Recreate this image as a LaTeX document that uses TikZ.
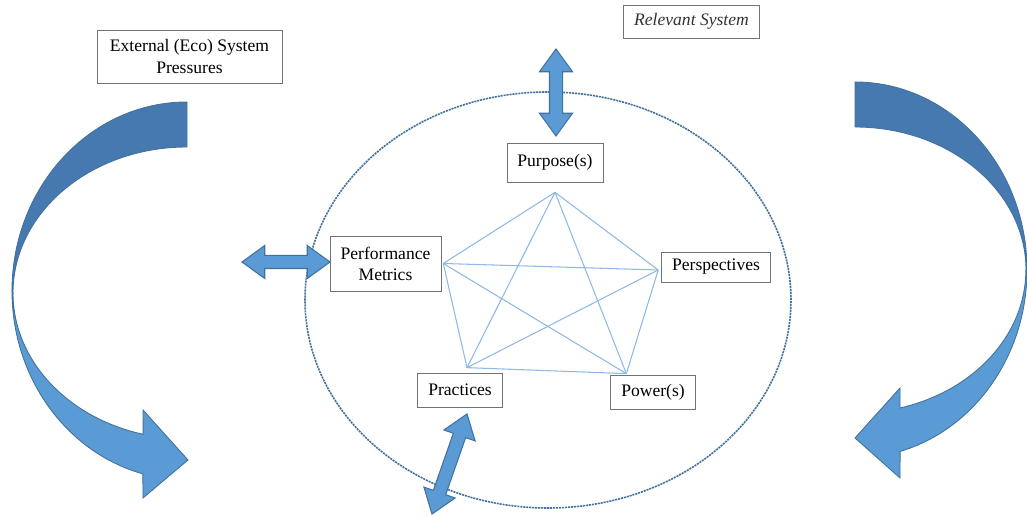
\documentclass[tikz,border=0pt]{standalone}
\usepackage{fontspec}
\setmainfont{Liberation Serif}
\usetikzlibrary{shapes.arrows}

\definecolor{arrowfill}{HTML}{5B9BD5}
\definecolor{arrowdark}{HTML}{4679AF}
\definecolor{arrowedge}{HTML}{41719C}
\definecolor{webblue}{HTML}{8EB8E5}

\begin{document}
\begin{tikzpicture}[
	labelbox/.style={draw=black!55, fill=white, inner xsep=6pt, inner ysep=4pt, align=center},
	flow/.style={double arrow, draw=arrowedge, fill=arrowfill, line width=0.6pt, inner xsep=0pt, inner ysep=0.12cm, double arrow head extend=0.2cm, double arrow tip angle=72},
	web/.style={draw=webblue, line width=0.6pt},
	ribbon/.style={draw=arrowedge, line width=0.5pt}]
	
	\useasboundingbox (0,0) rectangle (20.54,10.34);
	
	%system boundary
	\draw[arrowedge, dash pattern=on 1.2pt off 0.5pt, line width=0.9pt] (10.96,4.34) ellipse [x radius=4.86, y radius=4.16];
	
	%outside labels
	\node[labelbox, minimum height=0.66cm, font=\itshape, text=black!80] (relevant) at (13.83,9.91) {Relevant System};
	\node[labelbox, minimum width=3.7cm, minimum height=1.06cm] (external) at (3.79,9.21) {External (Eco) System\\Pressures};
	
	%the five p's
	\node[labelbox, minimum height=0.78cm] (purpose) at (11.10,7.09) {Purpose(s)};
	\node[labelbox, minimum height=1.10cm] (metrics) at (7.71,5.07) {Performance\\Metrics};
	\node[labelbox, minimum height=0.60cm] (persp) at (14.32,5.00) {Perspectives};
	\node[labelbox, minimum height=0.68cm] (practices) at (9.20,2.54) {Practices};
	\node[labelbox, minimum height=0.68cm] (power) at (13.06,2.50) {Power(s)};
	
	%corners of the web
	\coordinate (pTop) at ([yshift=-0.2cm]purpose.south);
	\coordinate (pLeft) at ([xshift=0.04cm]metrics.east);
	\coordinate (pRight) at ([xshift=-0.06cm,yshift=-0.06cm]persp.west);
	\coordinate (pBL) at ([xshift=0.14cm,yshift=0.1cm]practices.north);
	\coordinate (pBR) at ([xshift=0.32cm,yshift=0.02cm]power.north west);
	
	\foreach \a/\b in {pTop/pLeft, pTop/pRight, pTop/pBL, pTop/pBR, pLeft/pRight,
		pLeft/pBL, pLeft/pBR, pRight/pBL, pRight/pBR, pBL/pBR}
		\draw[web] (\a) -- (\b);
	
	%exchange across the boundary
	\node[flow, minimum height=1.74cm, rotate=90] (topflow) at (11.12,8.49) {};
	\node[flow, minimum height=1.76cm] (leftflow) at (5.72,5.10) {};
	\node[flow, minimum height=2.12cm, rotate=70.7] (lowflow) at (8.99,1.06) {};
	
	%left pressure loop
	\filldraw[ribbon, fill=arrowdark] (3.74,8.30) arc[start angle=90, end angle=180, x radius=3.5, y radius=3.78]
		-- (0.26,4.48) arc[start angle=180, end angle=90, x radius=3.48, y radius=2.92] -- cycle;
	\filldraw[ribbon, fill=arrowfill] (0.24,4.52) arc[start angle=180, end angle=255.4, x radius=3.5, y radius=3.78]
		-- (2.86,0.38) -- (3.76,1.14) -- (2.86,2.14) -- (2.863,1.654)
		arc[start angle=255.4, end angle=180, x radius=3.48, y radius=2.92] -- cycle;
	
	%right pressure loop
	\filldraw[ribbon, fill=arrowdark] (17.10,8.70) arc[start angle=90, end angle=0, x radius=3.44, y radius=3.76]
		-- (20.52,4.94) arc[start angle=0, end angle=90, x radius=3.42, y radius=2.86] -- cycle;
	\filldraw[ribbon, fill=arrowfill] (20.54,4.94) arc[start angle=0, end angle=-74.8, x radius=3.44, y radius=3.76]
		-- (18.0,0.78) -- (17.10,1.58) -- (18.0,2.58) -- (18.0,2.18)
		arc[start angle=-74.7, end angle=0, x radius=3.42, y radius=2.86] -- cycle;
	
\end{tikzpicture}
\end{document}
